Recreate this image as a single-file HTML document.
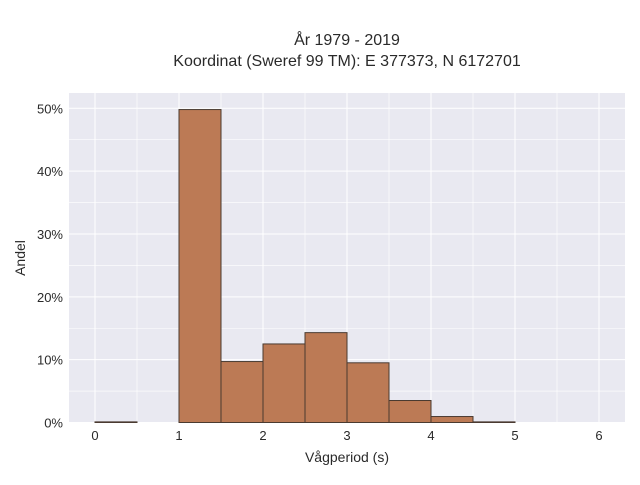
<!DOCTYPE html>
<html><head><meta charset="utf-8"><style>
body{margin:0;background:#fff;}
svg text{font-family:"Liberation Sans",sans-serif;fill:#2a2a2a;}
</style></head><body>
<svg width="640" height="480" xmlns="http://www.w3.org/2000/svg">
<text x="347" y="45" text-anchor="middle" font-size="16">År 1979 - 2019</text>
<text x="347" y="66" text-anchor="middle" font-size="16">Koordinat (Sweref 99 TM): E 377373, N 6172701</text>
<rect x="69" y="93" width="556" height="330" fill="#e9e9f1"/>
<g id="grid"></g>
<g id="bars"></g>
<g id="ticks"></g>
<text x="347" y="462" text-anchor="middle" font-size="14">Vågperiod (s)</text>
<text transform="translate(25,258) rotate(-90)" text-anchor="middle" font-size="14">Andel</text>
</svg>
<script>
const binStarts=[0,0.5,1,1.5,2,2.5,3,3.5,4,4.5];
const binValues=[0.1,0,49.8,9.7,12.5,14.3,9.5,3.5,0.95,0.1];
const binWidth=0.5;
const xTicks=[0,1,2,3,4,5,6];
const yTicks=[0,10,20,30,40,50];
const ns="http://www.w3.org/2000/svg";
const X=v=>95+v*84;
const Y=v=>422.5-v*6.284;
function mk(t,a,p){const e=document.createElementNS(ns,t);for(const k in a)e.setAttribute(k,a[k]);p.appendChild(e);return e;}
const g=document.getElementById('grid'),b=document.getElementById('bars'),tk=document.getElementById('ticks');
for(let v=0;v<=6.5;v+=0.5){const l=mk('line',{x1:X(v),x2:X(v),y1:93,y2:423,stroke:'#fff','stroke-width':v%1?0.6:1},g);

}
for(let v=0;v<=52;v+=5){const l=mk('line',{x1:69,x2:625,y1:Y(v),y2:Y(v),stroke:'#fff','stroke-width':v%10?0.6:1},g);

}
binStarts.forEach((s,i)=>{const v=binValues[i];if(v<=0)return;
const r=mk('rect',{x:X(s),y:Y(v),width:X(s+binWidth)-X(s),height:Y(0)-Y(v),fill:'#bc7a55',stroke:'#4a3a30','stroke-width':1},b);

});
xTicks.forEach(v=>{const t=mk('text',{x:X(v),y:440,'text-anchor':'middle','font-size':13},tk);t.textContent=v;

});
yTicks.forEach(v=>{const t=mk('text',{x:63,y:Y(v)+5,'text-anchor':'end','font-size':13},tk);t.textContent=v+'%';

});
</script>
</body></html>
